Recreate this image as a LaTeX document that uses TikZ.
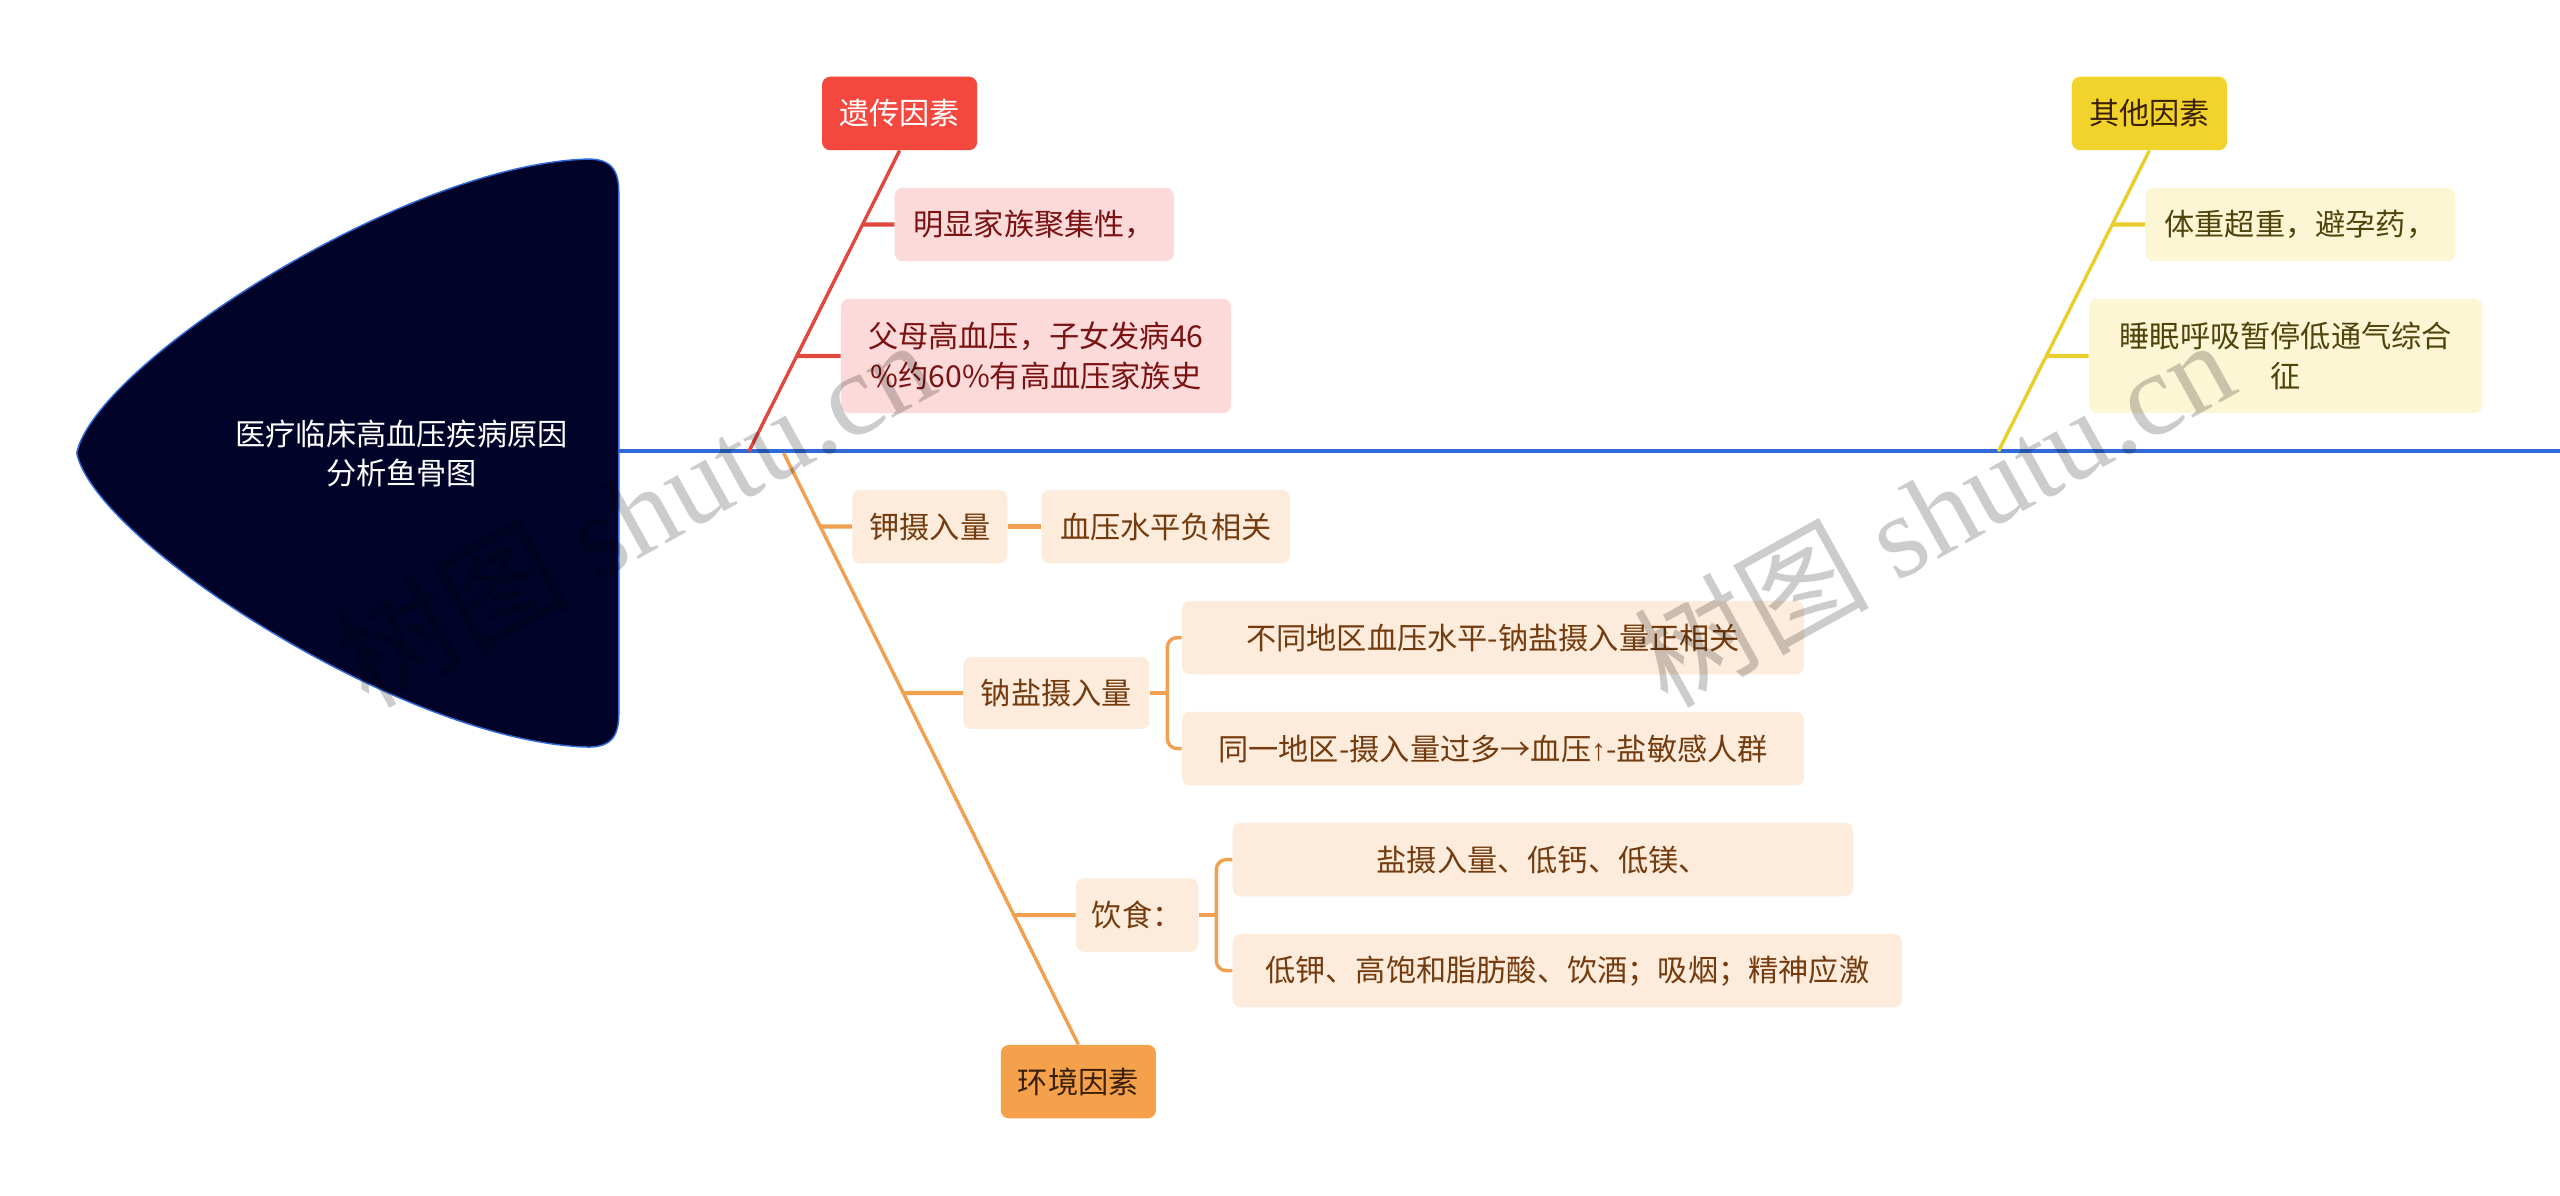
\documentclass[tikz,border=0pt]{standalone}
\usepackage{fontspec}
\newfontfamily\cjk{Noto Sans CJK SC}
\newfontfamily\wmserif{Liberation Serif}
\newfontfamily\libsans{Liberation Sans}
\usetikzlibrary{calc}
\definecolor{headfill}{HTML}{010328}
\definecolor{spineblue}{HTML}{2F6AD6}
\definecolor{redmain}{HTML}{F4483F}
\definecolor{redline}{HTML}{E04840}
\definecolor{pinkfill}{HTML}{FDDADA}
\definecolor{pinktext}{HTML}{7A1212}
\definecolor{ormain}{HTML}{F5A14C}
\definecolor{orline}{HTML}{F0A050}
\definecolor{orfill}{HTML}{FDEBDB}
\definecolor{ortext}{HTML}{743C0E}
\definecolor{ormaintext}{HTML}{3A2008}
\definecolor{ymain}{HTML}{F2D32B}
\definecolor{yline}{HTML}{E8CF2E}
\definecolor{yfill}{HTML}{FCF6D4}
\definecolor{ytext}{HTML}{4E450C}
\begin{document}
\begin{tikzpicture}[x=1pt,y=-1pt,
  box/.style={rounded corners=5pt, minimum height=45pt, inner sep=0pt, align=center,
    font=\cjk\fontsize{18.5}{25}\selectfont},
  redbox/.style={box, fill=redmain, text=white},
  pinkbox/.style={box, fill=pinkfill, text=pinktext},
  orbox/.style={box, fill=ormain, text=ormaintext},
  lorbox/.style={box, fill=orfill, text=ortext},
  ybox/.style={box, fill=ymain, text=ormaintext},
  lybox/.style={box, fill=yfill, text=ytext},
  redbone/.style={draw=redline, line width=2.1pt},
  redstub/.style={draw=redline, line width=2.6pt},
  orbone/.style={draw=orline, line width=2.1pt},
  orstub/.style={draw=orline, line width=2.6pt},
  ybone/.style={draw=yline, line width=2.1pt},
  ystub/.style={draw=yline, line width=2.6pt},
  wm/.style={text=black, text opacity=0.2, inner sep=0pt}
]
\useasboundingbox (0,0) rectangle (1568,732);
\fill[white] (0,0) rectangle (1568,732);

% head
\draw[draw=spineblue, line width=0.9pt, fill=headfill]
  (47,277.5) .. controls (58,224) and (245,102) .. (358,97.5)
  .. controls (376,96.5) and (379,106) .. (379,118) -- (379,437)
  .. controls (379,449) and (376,458.5) .. (358,457.5)
  .. controls (245,453) and (58,331) .. (47,277.5) -- cycle;
\node[font=\cjk\fontsize{18.5}{24}\selectfont, text=white, align=center, inner sep=0pt]
  (title) at (246,278) {医疗临床高血压疾病原因\\分析鱼骨图};

% spine
\coordinate (spineL) at (379,276.5);
\coordinate (spineR) at (1568,276.5);
\draw[draw=spineblue, line width=2.5pt] (spineL) -- (spineR);

% nodes
\node[redbox, minimum width=95pt] (gen) at (551,69.5) {遗传因素};
\node[pinkbox, minimum width=171pt] (gen1) at (633.5,137.5) {明显家族聚集性，};
\node[pinkbox, minimum width=239pt, minimum height=70pt] (gen2) at (634.5,218) {父母高血压，子女发病46\\\%约60\%有高血压家族史};

\node[orbox, minimum width=95pt] (env) at (660.5,662.5) {环境因素};
\node[lorbox, minimum width=95pt] (env1) at (569.5,322.5) {钾摄入量};
\node[lorbox, minimum width=152pt] (env1a) at (714,322.5) {血压水平负相关};
\node[lorbox, minimum width=114pt, minimum height=44pt] (env2) at (647,424.5) {钠盐摄入量};
\node[lorbox, minimum width=381pt] (env2a) at (914.5,390.5) {不同地区血压水平-钠盐摄入量正相关};
\node[lorbox, minimum width=381pt] (env2b) at (914.5,458.5) {同一地区-摄入量过多→血压{\libsans ↑}-盐敏感人群};
\node[lorbox, minimum width=75pt] (env3) at (696.5,560.5) {饮食：};
\node[lorbox, minimum width=380pt] (env3a) at (945,526.5) {盐摄入量、低钙、低镁、};
\node[lorbox, minimum width=410pt] (env3b) at (960,594.5) {低钾、高饱和脂肪酸、饮酒；吸烟；精神应激};

\node[ybox, minimum width=95pt] (oth) at (1316.5,69.5) {其他因素};
\node[lybox, minimum width=190pt] (oth1) at (1409,137.5) {体重超重，避孕药，};
\node[lybox, minimum width=241pt, minimum height=70pt] (oth2) at (1400,218) {睡眠呼吸暂停低通气综合\\征};

% genetic bone
\coordinate (rroot) at (458.7,276.5);
\draw[redbone] (rroot) -- (gen.south);
\draw[redstub] (gen1.west) -- (intersection of rroot--gen.south and gen1.west--gen1.east);
\draw[redstub] (gen2.west) -- (intersection of rroot--gen.south and gen2.west--gen2.east);

% environment bone
\coordinate (oroot) at (480,277.5);
\draw[orbone] (oroot) -- (env.north);
\draw[orstub] (env1.west) -- (intersection of oroot--env.north and env1.west--env1.east);
\draw[orstub] (env1.east) -- (env1a.west);
\draw[orstub] (env2.west) -- (intersection of oroot--env.north and env2.west--env2.east);
\draw[orstub] (env3.west) -- (intersection of oroot--env.north and env3.west--env3.east);
\coordinate (b2) at (715,424.5);
\draw[orstub] (env2.east) -- (b2);
\draw[orbone, rounded corners=6pt] (env2a.west) -| (b2) |- (env2b.west);
\coordinate (b3) at (745,560.5);
\draw[orstub] (env3.east) -- (b3);
\draw[orbone, rounded corners=6pt] (env3a.west) -| (b3) |- (env3b.west);

% other bone
\coordinate (yroot) at (1224,276.5);
\draw[ybone] (yroot) -- (oth.south);
\draw[ystub] (oth1.west) -- (intersection of yroot--oth.south and oth1.west--oth1.east);
\draw[ystub] (oth2.west) -- (intersection of yroot--oth.south and oth2.west--oth2.east);

% watermarks
\node[wm, rotate=29] (wm1) at (388,313) {\cjk\fontsize{72}{72}\selectfont 树图\ \wmserif shutu.cn};
\node[wm, rotate=29] (wm2) at (1184,313) {\cjk\fontsize{72}{72}\selectfont 树图\ \wmserif shutu.cn};
\end{tikzpicture}
\end{document}
